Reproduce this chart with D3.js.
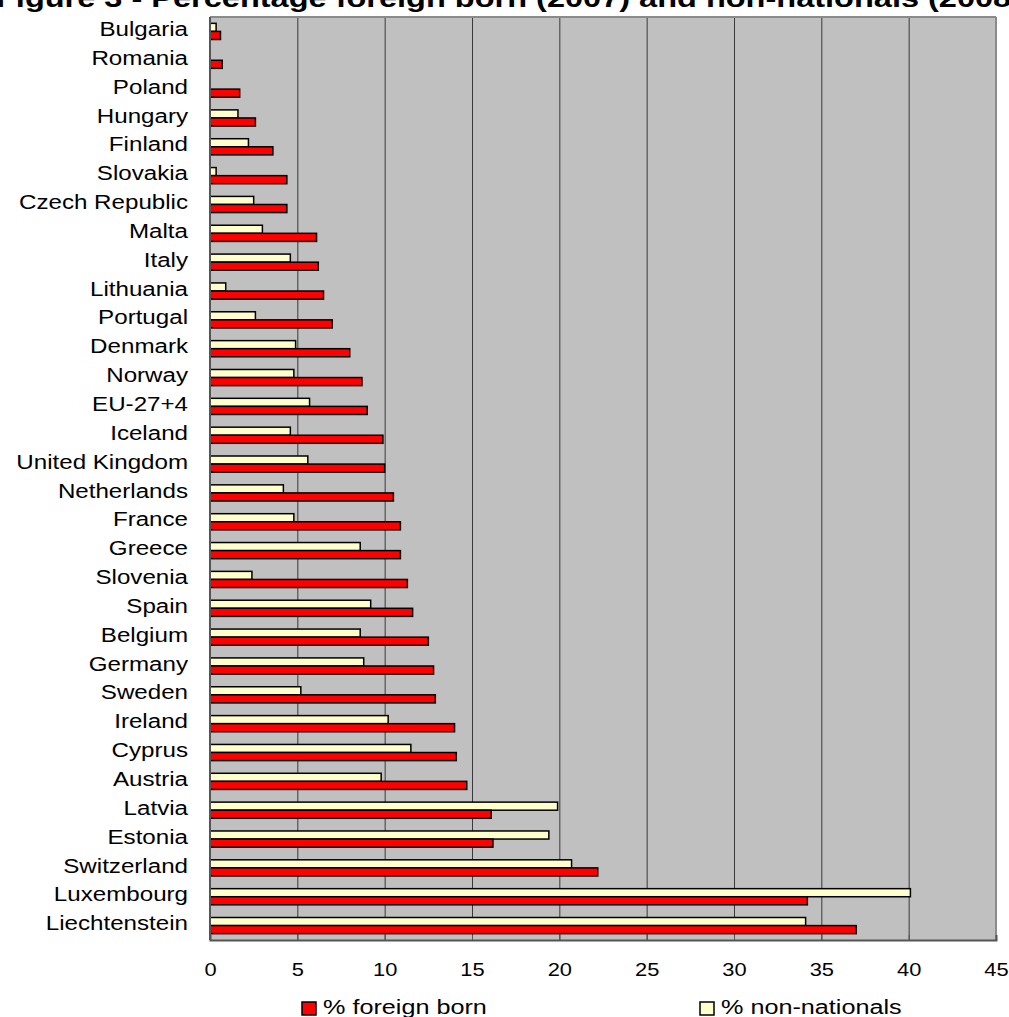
<!DOCTYPE html>
<html>
<head>
<meta charset="utf-8">
<script src="https://d3js.org/d3.v7.min.js"></script>
<style>
  body { margin: 0; background: #fff; }
  text { font-family: "Liberation Sans", Arial, sans-serif; fill: #000; }
</style>
</head>
<body>
<div id="chart"></div>
<script>
// countries, top to bottom
var countries = ["Bulgaria", "Romania", "Poland", "Hungary", "Finland", "Slovakia",
  "Czech Republic", "Malta", "Italy", "Lithuania", "Portugal", "Denmark", "Norway",
  "EU-27+4", "Iceland", "United Kingdom", "Netherlands", "France", "Greece", "Slovenia",
  "Spain", "Belgium", "Germany", "Sweden", "Ireland", "Cyprus", "Austria", "Latvia",
  "Estonia", "Switzerland", "Luxembourg", "Liechtenstein"];

// % foreign born (2007)
var foreignBorn = [0.6, 0.7, 1.7, 2.6, 3.6, 4.4, 4.4, 6.1, 6.2, 6.5, 7.0, 8.0, 8.7,
  9.0, 9.9, 10.0, 10.5, 10.9, 10.9, 11.3, 11.6, 12.5, 12.8, 12.9, 14.0, 14.1, 14.7,
  16.1, 16.2, 22.2, 34.2, 37.0];

// % non-nationals (2008), null where no bar is drawn
var nonNationals = [0.35, null, null, 1.6, 2.2, 0.35, 2.5, 3.0, 4.6, 0.9, 2.6, 4.9,
  4.8, 5.7, 4.6, 5.6, 4.2, 4.8, 8.6, 2.4, 9.2, 8.6, 8.8, 5.2, 10.2, 11.5, 9.8, 19.9,
  19.4, 20.7, 40.1, 34.1];

var xTicks = [0, 5, 10, 15, 20, 25, 30, 35, 40, 45];
var seriesNames = ["% non-nationals", "% foreign born"];
var seriesColors = ["#ffffcc", "#ff0000"];

var W = 1009, H = 1017;
var pLeft = 210, pRight = 996, pTop = 17, pBottom = 940;
var sx = 1.15; // text is drawn a little wider than normal

var svg = d3.select("#chart").append("svg").attr("width", W).attr("height", H);

var data = countries.map(function(c, i) {
  return { country: c, values: [nonNationals[i], foreignBorn[i]] };
});

var x = d3.scaleLinear().domain([0, 45]).range([pLeft, pRight]);
var y0 = d3.scaleBand().domain(countries).range([pTop, pBottom])
  .paddingInner(0.44).paddingOuter(0.22);
var y1 = d3.scaleBand().domain([0, 1]).range([0, y0.bandwidth()]);

// title (partly cut off at the top)
svg.append("text")
  .attr("x", -4).attr("y", 7)
  .attr("font-size", "26px").attr("font-weight", "bold")
  .attr("textLength", 1026).attr("lengthAdjust", "spacingAndGlyphs")
  .text("Figure 3 - Percentage foreign born (2007) and non-nationals (2008)");

// plot area
svg.append("rect")
  .attr("x", pLeft).attr("y", pTop)
  .attr("width", pRight - pLeft).attr("height", pBottom - pTop)
  .attr("fill", "#c0c0c0");

// vertical grid lines
var grid = svg.append("g")
  .attr("transform", "translate(0," + pBottom + ")")
  .call(d3.axisBottom(x).tickValues(xTicks).tickSize(-(pBottom - pTop)).tickFormat(""));
grid.select(".domain").remove();
grid.selectAll(".tick line").attr("stroke", "#3a3a3a").attr("stroke-width", 1);
grid.selectAll(".tick").filter(function(d) { return d === 0 || d === 45; }).remove();

// frame
svg.append("line").attr("x1", pLeft).attr("x2", pRight).attr("y1", pTop).attr("y2", pTop)
  .attr("stroke", "#8a8a8a").attr("stroke-width", 2);
svg.append("line").attr("x1", pRight).attr("x2", pRight).attr("y1", pTop).attr("y2", pBottom)
  .attr("stroke", "#8a8a8a").attr("stroke-width", 2);

// bars
var rows = svg.append("g").selectAll("g").data(data).join("g")
  .attr("transform", function(d) { return "translate(0," + y0(d.country) + ")"; });

rows.selectAll("rect")
  .data(function(d) {
    return d.values.map(function(v, k) { return { k: k, v: v }; })
      .filter(function(e) { return e.v != null; });
  })
  .join("rect")
  .attr("x", x(0))
  .attr("y", function(e) { return y1(e.k); })
  .attr("width", function(e) { return x(e.v) - x(0); })
  .attr("height", y1.bandwidth())
  .attr("fill", function(e) { return seriesColors[e.k]; })
  .attr("stroke", "#000")
  .attr("stroke-width", 1.5);

// left axis line and bottom axis
svg.append("line").attr("x1", pLeft).attr("x2", pLeft).attr("y1", pTop).attr("y2", pBottom)
  .attr("stroke", "#555").attr("stroke-width", 2);

var xAxis = svg.append("g")
  .attr("transform", "translate(0," + pBottom + ")")
  .call(d3.axisBottom(x).tickValues(xTicks).tickSize(-5).tickPadding(23));
xAxis.select(".domain").attr("stroke", "#555").attr("stroke-width", 2);
xAxis.selectAll(".tick line").attr("stroke", "#555");
xAxis.selectAll(".tick text")
  .attr("font-size", "19px").attr("font-family", "Liberation Sans, Arial, sans-serif")
  .attr("fill", "#000")
  .attr("transform", "scale(" + sx + ",1)")
  .attr("x", 0);

// country labels
var yAxis = svg.append("g")
  .attr("transform", "translate(" + pLeft + ",0)")
  .call(d3.axisLeft(y0).tickSize(0).tickPadding(22));
yAxis.select(".domain").remove();
yAxis.selectAll(".tick text")
  .attr("font-size", "21px").attr("font-family", "Liberation Sans, Arial, sans-serif")
  .attr("fill", "#000")
  .attr("x", 0).attr("dy", "0.22em")
  .attr("transform", "translate(-22,0) scale(" + sx + ",1)");

// legend
var legendX = [302, 700];
var legend = svg.append("g").selectAll("g").data([1, 0]).join("g")
  .attr("transform", function(k, i) { return "translate(" + legendX[i] + ",1002)"; });
legend.append("rect")
  .attr("width", 14).attr("height", 13)
  .attr("fill", function(k) { return seriesColors[k]; })
  .attr("stroke", "#000").attr("stroke-width", 1.5);
legend.append("text")
  .attr("x", 0).attr("y", 0)
  .attr("transform", "translate(21,12) scale(1.2,1)")
  .attr("font-size", "21px")
  .text(function(k) { return seriesNames[k]; });
</script>
</body>
</html>
